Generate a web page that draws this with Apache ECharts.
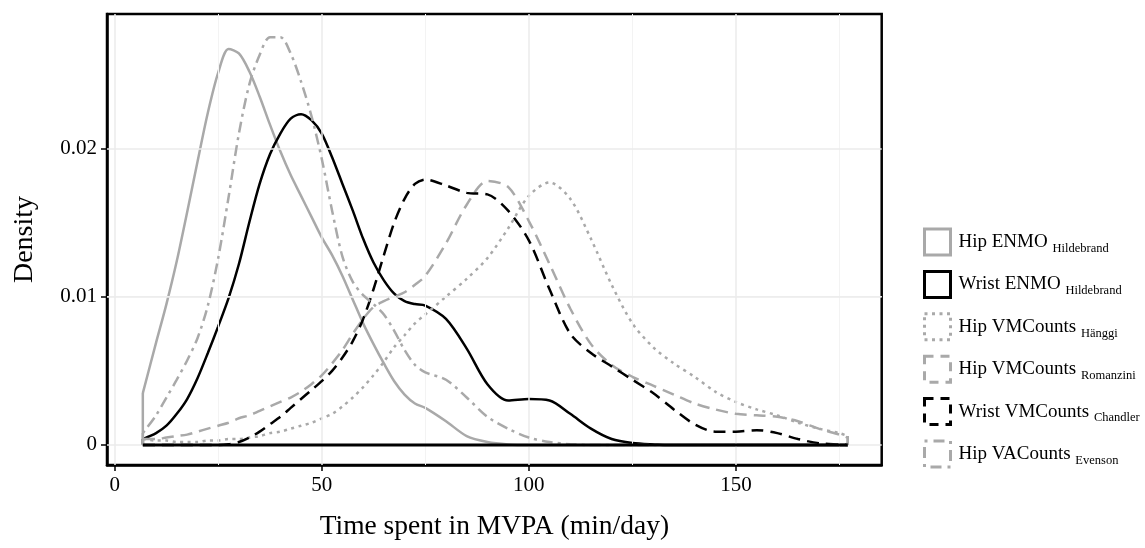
<!DOCTYPE html>
<html><head><meta charset="utf-8">
<script src="https://cdn.jsdelivr.net/npm/echarts@6/dist/echarts.min.js"></script>
<style>html,body{margin:0;padding:0;background:#fff}#c{width:1145px;height:548px}</style>
</head><body><div id="c"></div>
<script>
// ---- data ----
const xs = [6.8,10,12.5,15,17.5,20,22.5,25,27.5,30,32.5,35,37.5,40,42.5,45,47.5,50,52.5,55,57.5,60,62.5,65,67.5,70,72.5,75,80,85,90,95,100,105,110,115,120,125,130,135,140,145,150,155,160,165,170,175,177];
const hipENMO = [0.0035,0.0069,0.0095,0.0124,0.0157,0.0191,0.0224,0.0251,0.0267,0.0264,0.0252,0.0235,0.0216,0.0198,0.0182,0.0168,0.0154,0.0140,0.0128,0.0114,0.0098,0.0082,0.0068,0.0055,0.0043,0.0034,0.0028,0.0025,0.0016,0.0006,0.0002,0.00004,0,0,0,0,0,0,0,0,0,0,0,0,0,0,0,0,0];
const wristENMO = [0.0004,0.0008,0.0013,0.0021,0.0031,0.0045,0.0062,0.0080,0.0099,0.0122,0.0150,0.0176,0.0196,0.0210,0.0220,0.0223,0.0219,0.0210,0.0194,0.0176,0.0158,0.0139,0.0123,0.0111,0.0102,0.0097,0.0095,0.0094,0.0085,0.0065,0.0041,0.0030,0.0031,0.0030,0.0021,0.0011,0.0004,0.00013,0.00004,0,0,0,0,0,0,0,0,0,0];
const hanggi = [0.0004,0.0003,0.0003,0.0002,0.0002,0.0002,0.0003,0.0003,0.0004,0.0004,0.0005,0.0006,0.0008,0.0009,0.0011,0.0013,0.0015,0.0018,0.0021,0.0026,0.0032,0.0039,0.0047,0.0056,0.0066,0.0074,0.0082,0.0088,0.0100,0.0112,0.0126,0.0146,0.0168,0.0177,0.0166,0.0139,0.0108,0.0082,0.0066,0.0055,0.0046,0.0036,0.0029,0.0024,0.0020,0.0015,0.0011,0.0008,0.0006];
const romanzini = [0.0004,0.0004,0.0005,0.0006,0.0007,0.0009,0.0011,0.0013,0.0015,0.0018,0.0020,0.0023,0.0026,0.0029,0.0032,0.0036,0.0041,0.0047,0.0055,0.0064,0.0075,0.0085,0.0093,0.0097,0.0100,0.0103,0.0108,0.0114,0.0136,0.0162,0.0178,0.0174,0.0151,0.0122,0.0092,0.0068,0.0054,0.0046,0.0040,0.0034,0.0028,0.0024,0.0021,0.0020,0.0019,0.0016,0.0011,0.0007,0.0005];
const chandler = [0,0,0,0,0,0,0,0,0.00005,0.0002,0.0005,0.0009,0.0014,0.0019,0.0025,0.0031,0.0037,0.0043,0.0050,0.0059,0.0070,0.0085,0.0105,0.0128,0.0150,0.0166,0.0176,0.0179,0.0175,0.0170,0.0169,0.0158,0.0138,0.0105,0.0075,0.0062,0.0053,0.0044,0.0035,0.0024,0.0014,0.0009,0.0009,0.0010,0.0008,0.0004,0.00012,0.00003,0];
const evenson = [0.0008,0.0020,0.0032,0.0044,0.0057,0.0072,0.0094,0.0126,0.0167,0.0210,0.0243,0.0263,0.0275,0.0275,0.0264,0.0245,0.0222,0.0193,0.0158,0.0127,0.0110,0.0101,0.0095,0.0088,0.0077,0.0064,0.0054,0.0049,0.0044,0.0032,0.0019,0.0011,0.0005,0.0002,0.00005,0,0,0,0,0,0,0,0,0,0,0,0,0,0];
const legendMain = ['Hip ENMO','Wrist ENMO','Hip VMCounts','Hip VMCounts','Wrist VMCounts','Hip VACounts'];
const legendSub = ['Hildebrand','Hildebrand','Hänggi','Romanzini','Chandler','Evenson'];
const xTicks = [0,50,100,150];
const xMinor = [25,75,125,175];
const yTicks = [0,0.01,0.02];
const yMinor = [0.005,0.015,0.025];

// ---- styling ----
const SERIF = 'Liberation Serif, Times New Roman, serif';
const GRAY = '#a9a9a9', BLACK = '#000000';
const styles = [
  {color: GRAY, type: 'solid', leg: 'solid'},
  {color: BLACK, type: 'solid', leg: 'solid'},
  {color: GRAY, type: [3, 4.5], leg: [3, 4.5]},
  {color: GRAY, type: [12, 7], leg: [9, 7]},
  {color: BLACK, type: [12, 7], leg: [9, 7]},
  {color: GRAY, type: [3, 5, 11, 5], leg: [3, 6, 11, 6]}
];
const values = [hipENMO, wristENMO, hanggi, romanzini, chandler, evenson];
const names = legendMain.map((m, i) => m + ' ' + legendSub[i]);

const series = [];
// gridlines
series.push({
  type: 'line', name: '_grid', data: [], z: 0, silent: true, symbol: 'none',
  markLine: {
    silent: true, symbol: 'none', animation: false, label: {show: false},
    data: [
      ...xMinor.map(v => ({xAxis: v, lineStyle: {color: '#f3f3f3', width: 1, type: 'solid'}})),
      ...yMinor.map(v => ({yAxis: v, lineStyle: {color: '#f3f3f3', width: 1, type: 'solid'}})),
      ...xTicks.map(v => ({xAxis: v, lineStyle: {color: '#ebebeb', width: 1.5, type: 'solid'}})),
      ...yTicks.map(v => ({yAxis: v, lineStyle: {color: '#ebebeb', width: 1.5, type: 'solid'}}))
    ]
  }
});
values.forEach((vals, i) => {
  const st = styles[i];
  series.push({
    type: 'line', name: names[i], data: xs.map((x, k) => [x, vals[k]]),
    smooth: 0.3, symbol: 'none', z: 2 + i,
    lineStyle: {color: st.color, width: 2.5, type: st.type, cap: 'butt'},
    itemStyle: {color: st.color}
  });
  const n = xs.length - 1;
  if (vals[0] > 0) series.push({type: 'line', name: '_edgeL' + i, data: [[xs[0], 0], [xs[0], vals[0]]], symbol: 'none', z: 2 + i,
    lineStyle: {color: st.color, width: 2.5, type: 'solid'}});
  if (vals[n] > 0) series.push({type: 'line', name: '_edgeR' + i, data: [[xs[n], vals[n]], [xs[n], 0]], symbol: 'none', z: 2 + i,
    lineStyle: {color: st.color, width: 2.5, type: 'solid'}});
});
// common baseline of the density outlines
series.push({type: 'line', name: '_base', data: [[xs[0], 0], [xs[xs.length - 1], 0]], symbol: 'none', z: 20,
  lineStyle: {color: BLACK, width: 2.8, type: 'solid'}});

const chart = echarts.init(document.getElementById('c'), null, {renderer: 'canvas'});
chart.setOption({
  animation: false,
  backgroundColor: '#ffffff',
  grid: {left: 107, right: 263.3, top: 14, bottom: 83, show: true, borderColor: '#000', borderWidth: 2.5, backgroundColor: '#fff'},
  xAxis: {
    type: 'value', min: -1.85, max: 185.2,
    axisLine: {show: true, onZero: false, lineStyle: {color: '#000', width: 2.5}},
    axisTick: {show: true, length: 6, lineStyle: {color: '#000', width: 1.5}, customValues: xTicks},
    axisLabel: {customValues: xTicks, fontFamily: SERIF, fontSize: 21, color: '#000', margin: 10},
    splitLine: {show: false},
    name: 'Time spent in MVPA (min/day)', nameLocation: 'middle', nameGap: 48,
    nameTextStyle: {fontFamily: SERIF, fontSize: 27.5, color: '#000'}
  },
  yAxis: {
    type: 'value', min: -0.00135, max: 0.02906,
    axisLine: {show: true, onZero: false, lineStyle: {color: '#000', width: 2.5}},
    axisTick: {show: true, length: 6, lineStyle: {color: '#000', width: 1.5}, customValues: yTicks},
    axisLabel: {customValues: yTicks, fontFamily: SERIF, fontSize: 21, color: '#000', margin: 10,
      formatter: v => (v === 0 ? '0' : v.toFixed(2))},
    splitLine: {show: false},
    name: 'Density', nameLocation: 'middle', nameGap: 68,
    nameTextStyle: {fontFamily: SERIF, fontSize: 28, color: '#000'}
  },
  legend: {
    orient: 'vertical', left: 918, top: 222.5, itemWidth: 26, itemHeight: 26, itemGap: 13.4,
    selectedMode: false,
    data: names.map((n, i) => ({
      name: n, icon: 'rect',
      itemStyle: {color: 'rgba(255,255,255,0)', borderColor: styles[i].color, borderWidth: 3, borderType: styles[i].leg}
    })),
    formatter: name => {
      const i = names.indexOf(name);
      return '{a|' + legendMain[i] + '} {b|' + legendSub[i] + '}';
    },
    textStyle: {
      fontFamily: SERIF, fontSize: 19, color: '#000', lineHeight: 26,
      rich: {
        a: {fontFamily: SERIF, fontSize: 19, color: '#000', lineHeight: 26, padding: [0, 0, 0, 3]},
        b: {fontFamily: SERIF, fontSize: 12.5, color: '#000', lineHeight: 26, verticalAlign: 'bottom'}
      }
    }
  },
  series: series
});
</script></body></html>
